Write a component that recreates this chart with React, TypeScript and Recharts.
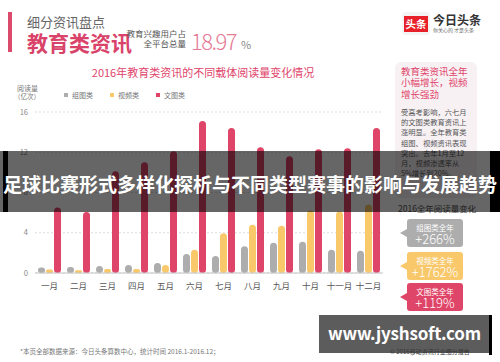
import { BarChart, Bar, XAxis, YAxis, CartesianGrid } from 'recharts';

// 2016 各月阅读量（亿次）
const months = ['一月', '二月', '三月', '四月', '五月', '六月', '七月', '八月', '九月', '十月', '十一月', '十二月'];
const groupPics = [0.55, 0.6, 0.7, 0.8, 1.0, 1.9, 1.7, 2.65, 3.0, 3.1, 2.3, 2.2];
const videos = [0.35, 0.28, 0.4, 0.4, 0.8, 2.3, 3.95, 4.8, 4.7, 6.2, 6.1, 6.8];
const textPics = [6.5, 6.05, 10.1, 11.0, 12.1, 15.1, 14.4, 12.5, 11.6, 12.3, 12.4, 14.4];
const yTicks = [0, 4, 8, 12, 16];

const seriesNames = ['组图类', '视频类', '文图类'];
const seriesColors = ['#adadad', '#f8c86a', '#df4568'];
const growthLabels = ['组图类全年', '视频类全年', '文图类全年'];
const growthValues = ['+266%', '+1762%', '+119%'];

const noteLines = ['受高考影响，六七月', '的文图类教育资讯上', '涨明显。全年教育类', '组图、视频资讯表现', '突出。去年1月至12', '月，视频渗透率从', '5%增长到20%。'];

const data = months.map((m, i) => ({
  month: m,
  组图类: groupPics[i],
  视频类: videos[i],
  文图类: textPics[i],
}));

const FONT = '"Noto Sans CJK SC", "Noto Sans", sans-serif';

function abs(left: number, top: number, extra: React.CSSProperties = {}): React.CSSProperties {
  return { position: 'absolute', left, top, whiteSpace: 'nowrap', ...extra };
}

export default function App() {
  return (
    <div
      style={{
        position: 'fixed',
        top: 0,
        left: 0,
        width: 500,
        height: 362,
        overflow: 'hidden',
        background: '#fff',
        fontFamily: FONT,
      }}
    >
      {/* header */}
      <div style={abs(8, 12, { width: 4, height: 40, background: '#dc4a6c' })} />
      <div style={abs(27, 13, { fontSize: 13, lineHeight: '18px', color: '#666' })}>细分资讯盘点</div>
      <div style={abs(27, 30, { fontSize: 21, lineHeight: '24px', color: '#d9436a', fontWeight: 700 })}>教育类资讯</div>
      <div style={abs(118, 28, { width: 68, textAlign: 'right', fontSize: 8.5, lineHeight: '10px', color: '#555' })}>
        教育兴趣用户占
        <br />
        全平台总量
      </div>
      <div style={abs(191, 26, { fontSize: 22, lineHeight: '28px', color: '#e57a95', fontWeight: 300, letterSpacing: -1.5 })}>18.97</div>
      <div style={abs(241, 37, { fontSize: 11, lineHeight: '14px', color: '#888' })}>%</div>

      {/* logo */}
      <div style={abs(402, 12, { width: 28, height: 23, borderRadius: 4, background: '#f4f4f4' })} />
      <div
        style={abs(404, 16, {
          width: 24,
          height: 16,
          background: '#e8202a',
          color: '#fff',
          fontSize: 10.5,
          lineHeight: '16px',
          fontWeight: 700,
          textAlign: 'center',
        })}
      >
        头条
      </div>
      <div style={abs(433, 12, { fontSize: 12, lineHeight: '16px', fontWeight: 700, color: '#333' })}>今日头条</div>
      <div style={abs(433, 27, { fontSize: 5, lineHeight: '6px', color: '#666' })}>你关心的 才是头条</div>

      {/* chart title */}
      <div style={abs(60, 65, { width: 286, textAlign: 'center', fontSize: 11, lineHeight: '14px', color: '#e0446a' })}>
        2016年教育类资讯的不同载体阅读量变化情况
      </div>
      <div style={abs(17, 84, { fontSize: 7, lineHeight: '8px', color: '#777' })}>阅读量</div>
      <div style={abs(14, 92, { fontSize: 6.5, lineHeight: '8px', color: '#777' })}>（亿次）</div>
      {seriesNames.map((n, i) => (
        <div key={n} style={abs(64 + i * 46, 90, { fontSize: 7, lineHeight: '10px', color: '#777', display: 'flex', alignItems: 'center' })}>
          <span style={{ display: 'inline-block', width: 4, height: 4, background: seriesColors[i], marginRight: 4 }} />
          {n}
        </div>
      ))}

      <BarChart
        width={500}
        height={362}
        data={data}
        margin={{ top: 112, right: 117, bottom: 59, left: 0 }}
        barSize={7}
        barGap={1}
        style={{ position: 'absolute', top: 0, left: 0 }}
      >
        <CartesianGrid vertical={false} strokeDasharray="2 2" stroke="#ddd" />
        <XAxis
          dataKey="month"
          tickLine={false}
          axisLine={{ stroke: '#c4c4c4' }}
          tickMargin={4}
          interval={0}
          tick={{ fontSize: 8.5, fill: '#555' }}
        />
        <YAxis
          width={35}
          domain={[0, 16]}
          ticks={yTicks}
          axisLine={false}
          tickLine={false}
          tickMargin={1}
          tick={{ fontSize: 7.5, fill: '#888' }}
        />
        {seriesNames.map((n, i) => (
          <Bar key={n} dataKey={n} fill={seriesColors[i]} radius={[3.5, 3.5, 3.5, 3.5]} isAnimationActive={false} />
        ))}
      </BarChart>

      {/* side note */}
      <div style={abs(395, 62, { width: 82, height: 136, borderRadius: 6, background: '#f7f1f4' })} />
      <div style={abs(401, 66, { fontSize: 9.5, lineHeight: '11.3px', color: '#e0446a' })}>
        教育类资讯全年
        <br />
        小幅增长，视频
        <br />
        增长强劲
      </div>
      <div style={abs(401, 107, { fontSize: 7.3, lineHeight: '10.2px', color: '#555' })}>
        {noteLines.map((l) => (
          <div key={l}>{l}</div>
        ))}
      </div>
      <div style={abs(398, 202, { fontSize: 8.5, lineHeight: '12px', color: '#555' })}>2016全年阅读量变化</div>

      {growthLabels.map((g, i) => {
        const top = [219, 252, 283][i];
        return (
          <div key={g}>
            <div
              style={abs(400, top + 10, {
                width: 0,
                height: 0,
                borderTop: '4px solid transparent',
                borderBottom: '4px solid transparent',
                borderRight: `7px solid ${seriesColors[i]}`,
              })}
            />
            <div
              style={abs(407, top, {
                width: 56,
                height: 28,
                borderRadius: 3,
                background: seriesColors[i],
                color: '#fff',
                textAlign: 'center',
              })}
            >
              <div style={{ fontSize: 7.5, lineHeight: '9px', marginTop: 4 }}>{g}</div>
              <div style={{ fontSize: 13, lineHeight: '14px', fontWeight: 300 }}>{growthValues[i]}</div>
            </div>
          </div>
        );
      })}

      {/* footer */}
      <div style={abs(20, 347, { fontSize: 6.5, lineHeight: '9px', color: '#777' })}>
        *本页全部数据来源：今日头条算数中心，统计时间 2016.1-2016.12；
      </div>

      {/* overlay banner */}
      <div style={abs(0, 151, { width: 500, height: 61, background: 'rgba(0,0,0,0.6)' })} />
      <div style={abs(3, 151, { width: 5, height: 61, background: '#000' })} />
      <div style={abs(490, 151, { width: 10, height: 61, background: '#000' })} />
      <div
        style={abs(0, 171, {
          width: 500,
          textAlign: 'center',
          fontSize: 19,
          lineHeight: '26px',
          fontWeight: 700,
          color: '#fff',
        })}
      >
        足球比赛形式多样化探析与不同类型赛事的影响与发展趋势
      </div>

      {/* watermark */}
      <div style={abs(319, 315, { width: 171, height: 38, background: 'rgba(70,70,70,0.88)' })} />
      <div style={abs(489, 315, { width: 3, height: 40, background: '#000' })} />
      <div style={abs(319, 321, { width: 171, textAlign: 'center', fontSize: 17, lineHeight: '24px', fontWeight: 700, color: '#fff', letterSpacing: -0.2 })}>
        www.jyshsoft.com
      </div>
      <div style={abs(390, 347, { fontSize: 6, lineHeight: '9px', color: '#333' })}>© 2016移动资讯行业细分报告</div>
    </div>
  );
}
